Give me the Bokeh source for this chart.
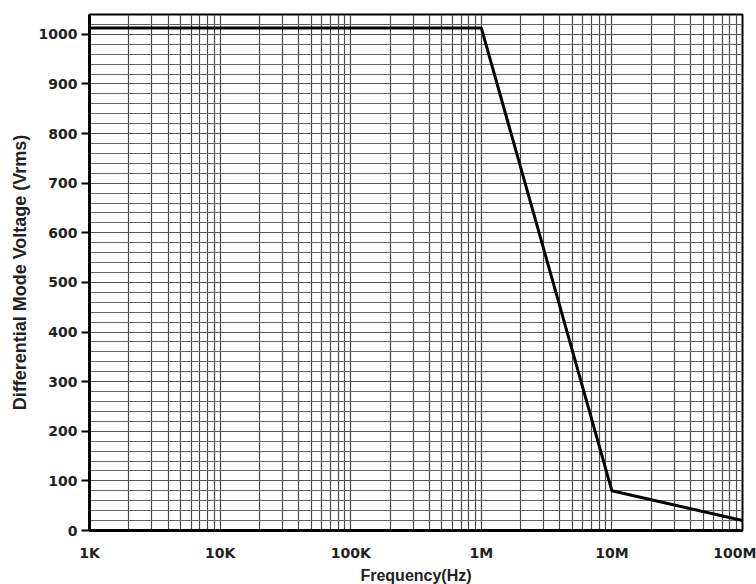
from bokeh.plotting import figure
from bokeh.models import FixedTicker, Range1d
from bokeh.embed import file_html
from bokeh.resources import INLINE

# Data
freq_hz = [1e3, 1e6, 1e7, 1e8]
voltage_vrms = [1013, 1013, 80, 20]

x_major = [1e3, 1e4, 1e5, 1e6, 1e7, 1e8]
x_labels = ["1K", "10K", "100K", "1M", "10M", "100M"]
y_major = [0, 100, 200, 300, 400, 500, 600, 700, 800, 900, 1000]

x_minor = [m * d for d in [1e3, 1e4, 1e5, 1e6, 1e7] for m in range(2, 10)]
y_minor = list(range(0, 1041, 20))

p = figure(
    frame_width=653, frame_height=516,
    x_axis_type="log",
    x_range=Range1d(1e3, 1e8), y_range=Range1d(0, 1040),
    output_backend="svg", toolbar_location=None,
    min_border_left=89, min_border_right=14, min_border_top=14, min_border_bottom=54,
    background_fill_color="white", border_fill_color="white",
)

p.line(freq_hz, voltage_vrms, line_color="black", line_width=3)

FONT = "DejaVu Sans"
LFONT = "Liberation Sans"

# X axis
xt = FixedTicker(ticks=x_major, minor_ticks=x_minor)
p.xaxis.ticker = xt
p.xaxis.major_label_overrides = {int(t): l for t, l in zip(x_major, x_labels)}
p.xaxis.major_tick_line_color = None
p.xaxis.minor_tick_line_color = None
p.xaxis.axis_line_width = 3
p.xaxis.axis_line_color = "black"
p.xaxis.major_label_text_font = FONT
p.xaxis.major_label_text_font_style = "bold"
p.xaxis.major_label_text_font_size = "14px"
p.xaxis.major_label_text_color = "#222222"
p.xaxis.major_label_standoff = 8
p.xaxis.axis_label = "Frequency(Hz)"
p.xaxis.axis_label_text_font = LFONT
p.xaxis.axis_label_text_font_style = "bold"
p.xaxis.axis_label_text_font_size = "16px"
p.xaxis.axis_label_text_color = "#222222"
p.xaxis.axis_label_standoff = 3

# Y axis
yt = FixedTicker(ticks=y_major, minor_ticks=y_minor)
p.yaxis.ticker = yt
p.yaxis.major_tick_in = 0
p.yaxis.major_tick_out = 8
p.yaxis.major_tick_line_width = 2
p.yaxis.minor_tick_line_color = None
p.yaxis.axis_line_width = 3
p.yaxis.axis_line_color = "black"
p.yaxis.major_label_text_font = FONT
p.yaxis.major_label_text_font_style = "bold"
p.yaxis.major_label_text_font_size = "14px"
p.yaxis.major_label_text_color = "#222222"
p.yaxis.major_label_standoff = 4
p.yaxis.axis_label = "Differential Mode Voltage (Vrms)"
p.yaxis.axis_label_text_font = LFONT
p.yaxis.axis_label_text_font_style = "bold"
p.yaxis.axis_label_text_font_size = "18px"
p.yaxis.axis_label_text_color = "#222222"
p.yaxis.axis_label_standoff = 6

# Grids
p.xgrid.grid_line_color = "#444444"
p.xgrid.grid_line_width = 1.2
p.xgrid.minor_grid_line_color = "#4a4a4a"
p.xgrid.minor_grid_line_width = 1.2
p.ygrid.grid_line_color = "#555555"
p.ygrid.grid_line_width = 1.2
p.ygrid.minor_grid_line_color = "#666666"
p.ygrid.minor_grid_line_width = 1.2

p.outline_line_color = "black"
p.outline_line_width = 2

open("out.html", "w").write(file_html(p, INLINE))
